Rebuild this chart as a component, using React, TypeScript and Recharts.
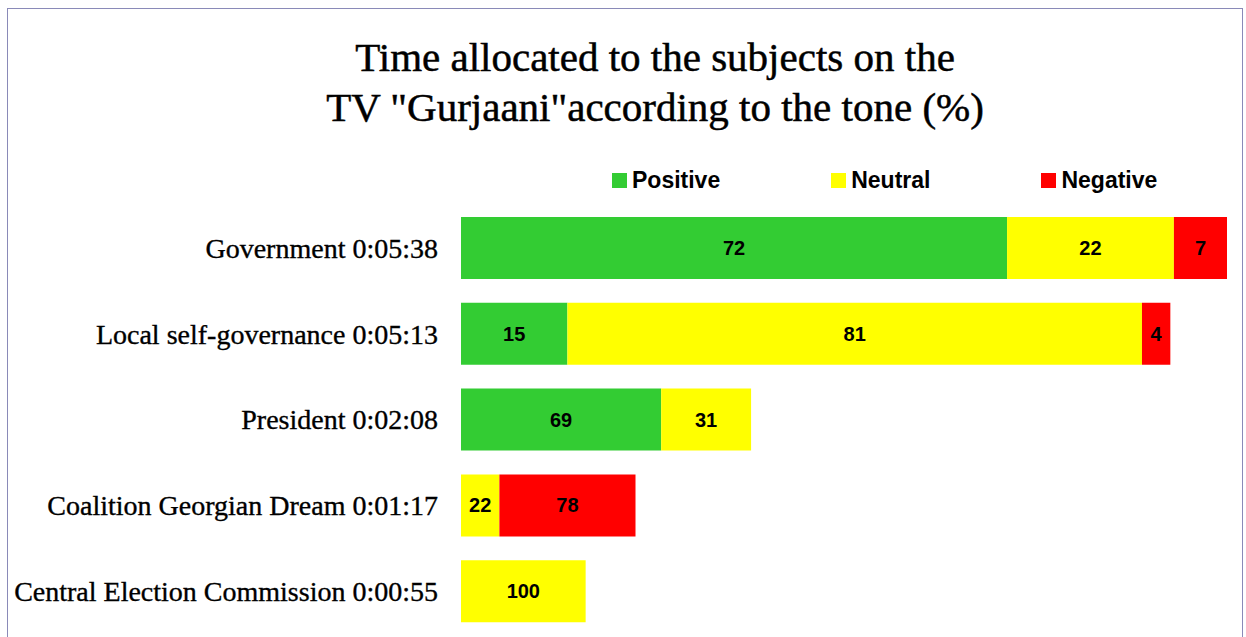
import React from 'react';
import { BarChart, Bar, XAxis, YAxis, LabelList } from 'recharts';

const categories = [
  'Government 0:05:38',
  'Local self-governance 0:05:13',
  'President 0:02:08',
  'Coalition Georgian Dream 0:01:17',
  'Central Election Commission 0:00:55',
];
const durationsSec = [338, 313, 128, 77, 55];
const positivePct = [72, 15, 69, 0, 0];
const neutralPct = [22, 81, 31, 22, 100];
const negativePct = [7, 4, 0, 78, 0];

const seriesNames = ['Positive', 'Neutral', 'Negative'];
const seriesColors = ['#33cc33', '#ffff00', '#ff0000'];

const data = categories.map((name, i) => {
  const sum = positivePct[i] + neutralPct[i] + negativePct[i];
  const k = durationsSec[i] / sum;
  return {
    name,
    pos: positivePct[i] * k,
    neu: neutralPct[i] * k,
    neg: negativePct[i] * k,
    posPct: positivePct[i],
    neuPct: neutralPct[i],
    negPct: negativePct[i],
  };
});

const renderValue = (props: any) => {
  const { x, y, width, height, value } = props;
  if (!value) return null;
  return (
    <text
      x={Number(x) + Number(width) / 2}
      y={Number(y) + Number(height) / 2}
      textAnchor="middle"
      dominantBaseline="central"
      style={{ fontFamily: 'Liberation Sans, Arial, sans-serif', fontWeight: 700, fontSize: 20, fill: '#000' }}
    >
      {value}
    </text>
  );
};

export default function App() {
  return (
    <div style={{ position: 'absolute', left: 0, top: 0, width: 1246, height: 637, overflow: 'hidden', background: '#fff' }}>
      <div style={{ position: 'absolute', left: 7, top: 8, width: 1236, height: 660, border: '1.5px solid #8a8ab8', boxSizing: 'border-box' }} />
      <div
        style={{
          position: 'absolute', left: 30, top: 32, width: 1250, textAlign: 'center',
          fontFamily: 'Liberation Serif, serif', fontSize: 41, lineHeight: '50px', color: '#000',
          WebkitTextStroke: '0.5px #000',
        }}
      >
        Time allocated to the subjects on the
        <br />
        TV "Gurjaani"according to the tone (%)
      </div>
      <div style={{ position: 'absolute', left: 612, top: 170, display: 'flex', alignItems: 'center' }}>
        {seriesNames.map((n, i) => (
          <div key={n} style={{ display: 'flex', alignItems: 'center', marginRight: i < 2 ? 111 : 0 }}>
            <div style={{ width: 15, height: 15, background: seriesColors[i], marginRight: 5 }} />
            <span style={{ fontFamily: 'Liberation Sans, Arial, sans-serif', fontWeight: 700, fontSize: 23, color: '#000', lineHeight: '20px' }}>{n}</span>
          </div>
        ))}
      </div>
      <div style={{ position: 'absolute', left: 0, top: 0 }}>
        <BarChart
          width={1246}
          height={637}
          data={data}
          layout="vertical"
          margin={{ top: 205, right: 19, bottom: 3, left: 11 }}
          barCategoryGap="14%"
        >
          <XAxis type="number" hide domain={[0, 'dataMax']} />
          <YAxis
            type="category"
            dataKey="name"
            width={450}
            axisLine={false}
            tickLine={false}
            tickSize={0}
            tickMargin={23}
            interval={0}
            tick={{ fontFamily: 'Liberation Serif, serif', fontSize: 28, fill: '#000', stroke: '#000', strokeWidth: 0.35 }}
          />
          <Bar dataKey="pos" name="Positive" stackId="a" fill={seriesColors[0]} isAnimationActive={false}>
            <LabelList dataKey="posPct" content={renderValue} />
          </Bar>
          <Bar dataKey="neu" name="Neutral" stackId="a" fill={seriesColors[1]} isAnimationActive={false}>
            <LabelList dataKey="neuPct" content={renderValue} />
          </Bar>
          <Bar dataKey="neg" name="Negative" stackId="a" fill={seriesColors[2]} isAnimationActive={false}>
            <LabelList dataKey="negPct" content={renderValue} />
          </Bar>
        </BarChart>
      </div>
    </div>
  );
}
